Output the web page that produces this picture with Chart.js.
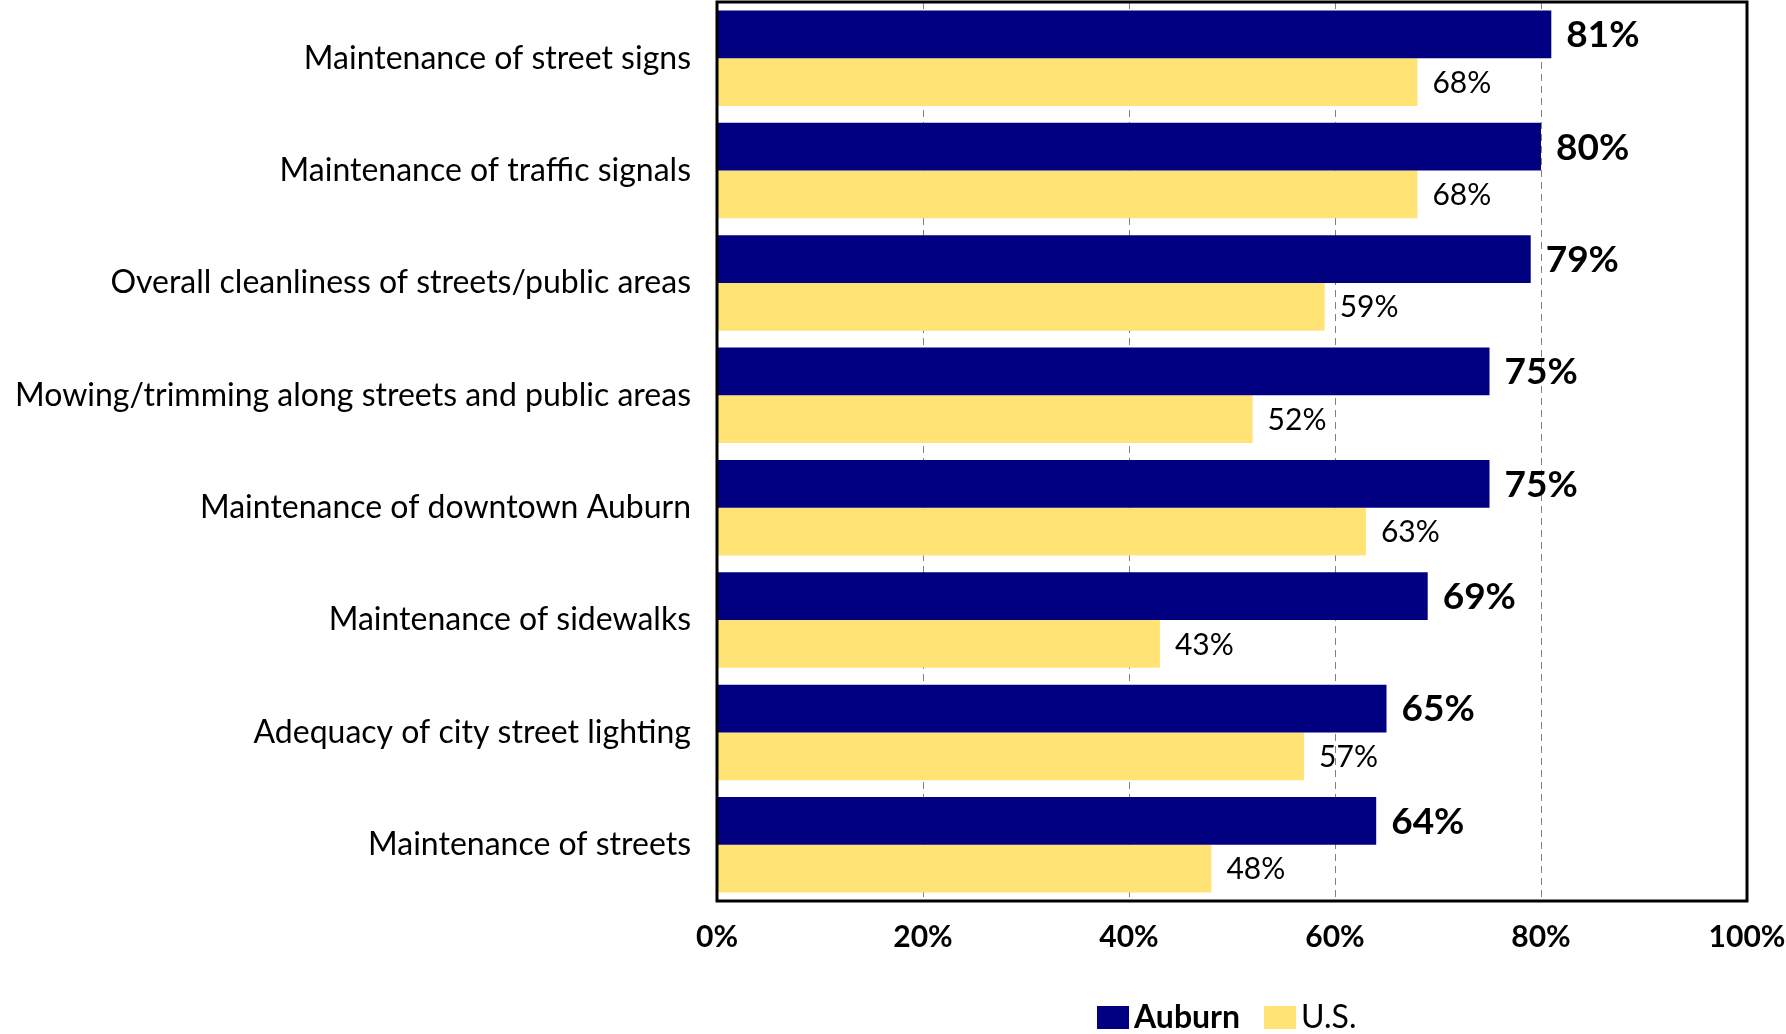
<!DOCTYPE html>
<html>
<head>
<meta charset="utf-8">
<script src="https://cdn.jsdelivr.net/npm/chart.js@4.4.1/dist/chart.umd.min.js"></script>
<style>
  html, body { margin: 0; padding: 0; background: #fff; }
  #wrap { width: 1786px; height: 1034px; }
</style>
</head>
<body>
<div id="wrap"><canvas id="satChart" width="1786" height="1034"></canvas></div>
<script>
// categories and series
const categories = [
  "Maintenance of street signs",
  "Maintenance of traffic signals",
  "Overall cleanliness of streets/public areas",
  "Mowing/trimming along streets and public areas",
  "Maintenance of downtown Auburn",
  "Maintenance of sidewalks",
  "Adequacy of city street lighting",
  "Maintenance of streets"
];
const auburn = [81, 80, 79, 75, 75, 69, 65, 64];
const us = [68, 68, 59, 52, 63, 43, 57, 48];
const xTicks = [0, 20, 40, 60, 80, 100];

const NAVY = "#000080";
const YELLOW = "#FFE375";
const FONT = "Lato";

// value labels at the end of each bar
const barLabels = {
  id: "barLabels",
  afterDatasetsDraw(chart) {
    const ctx = chart.ctx;
    ctx.save();
    ctx.fillStyle = "#000";
    ctx.textBaseline = "middle";
    ctx.textAlign = "left";
    chart.data.datasets.forEach((ds, i) => {
      const meta = chart.getDatasetMeta(i);
      ctx.font = i === 0 ? "bold 37px " + FONT : "30px " + FONT;
      meta.data.forEach((bar, j) => {
        ctx.fillText(ds.data[j] + "%", bar.x + 15, bar.y + 1);
      });
    });
    ctx.restore();
  }
};

// black box round the plot area + legend at the bottom
const frameAndLegend = {
  id: "frameAndLegend",
  afterDraw(chart) {
    const ctx = chart.ctx;
    const a = chart.chartArea;
    ctx.save();
    ctx.strokeStyle = "#000";
    ctx.lineWidth = 3;
    ctx.strokeRect(a.left, a.top, a.right - a.left, a.bottom - a.top);

    const items = [
      { text: "Auburn", color: NAVY, font: "bold 32px " + FONT },
      { text: "U.S.", color: YELLOW, font: "32px " + FONT }
    ];
    const y = 1017;
    let x = 1097;
    ctx.textBaseline = "middle";
    items.forEach(it => {
      ctx.fillStyle = it.color;
      ctx.fillRect(x, y - 11, 32, 23);
      x += 37;
      ctx.font = it.font;
      ctx.fillStyle = "#000";
      ctx.fillText(it.text, x, y + 1);
      x += ctx.measureText(it.text).width + 24;
    });
    ctx.restore();
  }
};

new Chart(document.getElementById("satChart"), {
  type: "bar",
  data: {
    labels: categories,
    datasets: [
      { label: "Auburn", data: auburn, backgroundColor: NAVY },
      { label: "U.S.", data: us, backgroundColor: YELLOW }
    ]
  },
  options: {
    indexAxis: "y",
    responsive: false,
    animation: false,
    datasets: { bar: { categoryPercentage: 0.85, barPercentage: 1.0 } },
    layout: { padding: { top: 2, right: 39, bottom: 63, left: 0 } },
    scales: {
      x: {
        min: 0,
        max: 100,
        afterBuildTicks: s => { s.ticks = xTicks.map(v => ({ value: v })); },
        afterFit: s => { s.height = 70; s.paddingLeft = 0; s.paddingRight = 0; },
        grid: { color: "#808080", lineWidth: 1, drawTicks: false, z: 0 },
        border: { display: false, dash: [7, 5] },
        ticks: {
          callback: v => v + "%",
          color: "#000",
          font: { family: FONT, size: 30, weight: "bold" },
          padding: 18,
          maxRotation: 0
        }
      },
      y: {
        afterFit: s => { s.width = 717; s.paddingTop = 0; s.paddingBottom = 0; },
        grid: { display: false, drawTicks: false },
        border: { display: false },
        ticks: {
          color: "#000",
          font: { family: FONT, size: 32 },
          padding: 26
        }
      }
    },
    plugins: {
      legend: { display: false },
      tooltip: { enabled: false }
    }
  },
  plugins: [barLabels, frameAndLegend]
});
</script>
</body>
</html>
